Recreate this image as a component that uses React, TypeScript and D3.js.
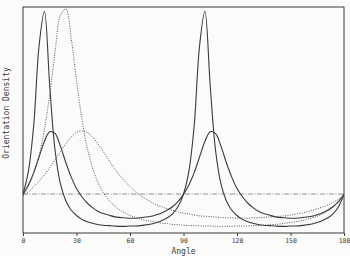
import { useEffect, useRef } from 'react';
import * as d3 from 'd3';

// angle grid (degrees) shared by all four density curves
const angles = [
  0, 3, 6, 9, 12, 15, 18, 21, 24, 27, 30, 33, 36, 39, 42, 45, 48, 51, 54, 57, 60,
  63, 66, 69, 72, 75, 78, 81, 84, 87, 90, 93, 96, 99, 102, 105, 108, 111, 114, 117, 120,
  123, 126, 129, 132, 135, 138, 141, 144, 147, 150, 153, 156, 159, 162, 165, 168, 171, 174, 177, 180,
];

// solid, sharp (two peaks near 11 and 101)
const solidSharp = [
  1.0, 1.58, 2.76, 4.8, 5.69, 3.76, 2.11, 1.26, 0.83, 0.59, 0.45, 0.35, 0.29, 0.25, 0.22, 0.2,
  0.19, 0.18, 0.17, 0.17, 0.18, 0.18, 0.19, 0.21, 0.23, 0.27, 0.32, 0.39, 0.5, 0.68,
  1.0, 1.58, 2.76, 4.8, 5.69, 3.76, 2.11, 1.26, 0.83, 0.59, 0.45, 0.35, 0.29, 0.25, 0.22, 0.2,
  0.19, 0.18, 0.17, 0.17, 0.18, 0.18, 0.19, 0.21, 0.23, 0.27, 0.32, 0.39, 0.5, 0.68, 1.0,
];

// solid, broad (two peaks near 16 and 106)
const solidBroad = [
  0.99, 1.23, 1.55, 1.95, 2.35, 2.6, 2.55, 2.23, 1.81, 1.44, 1.14, 0.93, 0.77, 0.65, 0.56, 0.5,
  0.46, 0.42, 0.4, 0.39, 0.38, 0.38, 0.39, 0.41, 0.43, 0.47, 0.52, 0.59, 0.68, 0.81,
  0.99, 1.23, 1.55, 1.95, 2.35, 2.6, 2.55, 2.23, 1.81, 1.44, 1.14, 0.93, 0.77, 0.65, 0.56, 0.5,
  0.46, 0.42, 0.4, 0.39, 0.38, 0.38, 0.39, 0.41, 0.43, 0.47, 0.52, 0.59, 0.68, 0.81, 0.99,
];

// dotted, sharp (one peak near 23)
const dottedSharp = [
  0.97, 1.2, 1.53, 1.99, 2.65, 3.56, 4.65, 5.59, 5.75, 5.01, 3.91, 2.93, 2.19, 1.67, 1.3, 1.04,
  0.85, 0.71, 0.6, 0.52, 0.45, 0.4, 0.36, 0.32, 0.3, 0.27, 0.25, 0.24, 0.22, 0.21,
  0.2, 0.19, 0.19, 0.18, 0.18, 0.18, 0.17, 0.17, 0.17, 0.17, 0.18, 0.18, 0.18, 0.19, 0.19, 0.2,
  0.21, 0.22, 0.23, 0.25, 0.27, 0.29, 0.31, 0.35, 0.39, 0.43, 0.49, 0.57, 0.67, 0.8, 0.97,
];

// dotted, broad (one peak near 33)
const dottedBroad = [
  0.96, 1.06, 1.19, 1.33, 1.49, 1.68, 1.88, 2.09, 2.29, 2.46, 2.58, 2.62, 2.58, 2.46, 2.29, 2.09,
  1.88, 1.68, 1.49, 1.33, 1.19, 1.06, 0.96, 0.87, 0.79, 0.72, 0.67, 0.62, 0.58, 0.54,
  0.51, 0.49, 0.46, 0.44, 0.43, 0.42, 0.41, 0.4, 0.39, 0.39, 0.38, 0.38, 0.38, 0.39, 0.39, 0.4,
  0.41, 0.42, 0.43, 0.44, 0.46, 0.49, 0.51, 0.54, 0.58, 0.62, 0.67, 0.72, 0.79, 0.87, 0.96,
];

const uniformLevel = 1;
const xTicks = [0, 30, 60, 90, 120, 150, 180];

const series = [
  { values: solidSharp, dash: null },
  { values: solidBroad, dash: null },
  { values: dottedSharp, dash: '1,1.4' },
  { values: dottedBroad, dash: '1,1.4' },
];

const width = 350;
const height = 256;

const App = () => {
  const ref = useRef<SVGSVGElement | null>(null);

  useEffect(() => {
    if (!ref.current) return;
    const svg = d3.select(ref.current);
    svg.selectAll('*').remove();

    const margin = { top: 7, right: 6, bottom: 23, left: 23 };
    const innerWidth = width - margin.left - margin.right;
    const innerHeight = height - margin.top - margin.bottom;
    const ink = '#3a3a3a';
    const font = '"DejaVu Sans Mono", monospace';

    svg.append('rect').attr('width', width).attr('height', height).attr('fill', '#fbfbf9');

    const g = svg.append('g').attr('transform', `translate(${margin.left},${margin.top})`);

    const x = d3.scaleLinear().domain([0, 180]).range([0, innerWidth]);
    const y = d3.scaleLinear().domain([0, 5.8]).range([innerHeight, 0]);

    g.append('clipPath')
      .attr('id', 'plot-clip')
      .append('rect')
      .attr('width', innerWidth)
      .attr('height', innerHeight);

    // uniform reference line (dash-dot)
    g.append('line')
      .attr('x1', 0)
      .attr('x2', innerWidth)
      .attr('y1', y(uniformLevel))
      .attr('y2', y(uniformLevel))
      .attr('stroke', '#777')
      .attr('stroke-width', 0.8)
      .attr('stroke-dasharray', '5,1.5,1,1.5');

    const line = d3
      .line<number>()
      .x((_, i) => x(angles[i]))
      .y((d) => y(d))
      .curve(d3.curveCatmullRom.alpha(0.5));

    const curves = g.append('g').attr('clip-path', 'url(#plot-clip)');
    series.forEach((s) => {
      curves
        .append('path')
        .datum(s.values)
        .attr('d', line)
        .attr('fill', 'none')
        .attr('stroke', s.dash ? '#555' : ink)
        .attr('stroke-width', s.dash ? 1 : 1.1)
        .attr('stroke-dasharray', s.dash ?? null);
    });

    // frame
    g.append('rect')
      .attr('width', innerWidth)
      .attr('height', innerHeight)
      .attr('fill', 'none')
      .attr('stroke', ink)
      .attr('stroke-width', 1);

    const xAxis = g
      .append('g')
      .attr('transform', `translate(0,${innerHeight})`)
      .call(d3.axisBottom(x).tickValues(xTicks).tickSize(3).tickFormat(d3.format('d')));
    xAxis.select('.domain').remove();
    xAxis.selectAll('line').attr('stroke', ink);
    xAxis
      .selectAll('text')
      .attr('font-family', font)
      .attr('font-size', 6.5)
      .attr('fill', ink)
      .attr('dy', '0.55em');

    g.append('text')
      .attr('x', innerWidth / 2)
      .attr('y', innerHeight + 21)
      .attr('text-anchor', 'middle')
      .attr('font-family', font)
      .attr('font-size', 8)
      .attr('fill', ink)
      .text('Angle');

    g.append('text')
      .attr('transform', `translate(${-14},${106}) rotate(-90)`)
      .attr('text-anchor', 'middle')
      .attr('font-family', font)
      .attr('font-size', 8)
      .attr('fill', ink)
      .text('Orientation Density');
  }, []);

  return (
    <svg
      ref={ref}
      width={width}
      height={height}
      style={{ position: 'absolute', left: 0, top: 0 }}
      role="img"
      aria-label="Orientation density chart"
    />
  );
};

export default App;
